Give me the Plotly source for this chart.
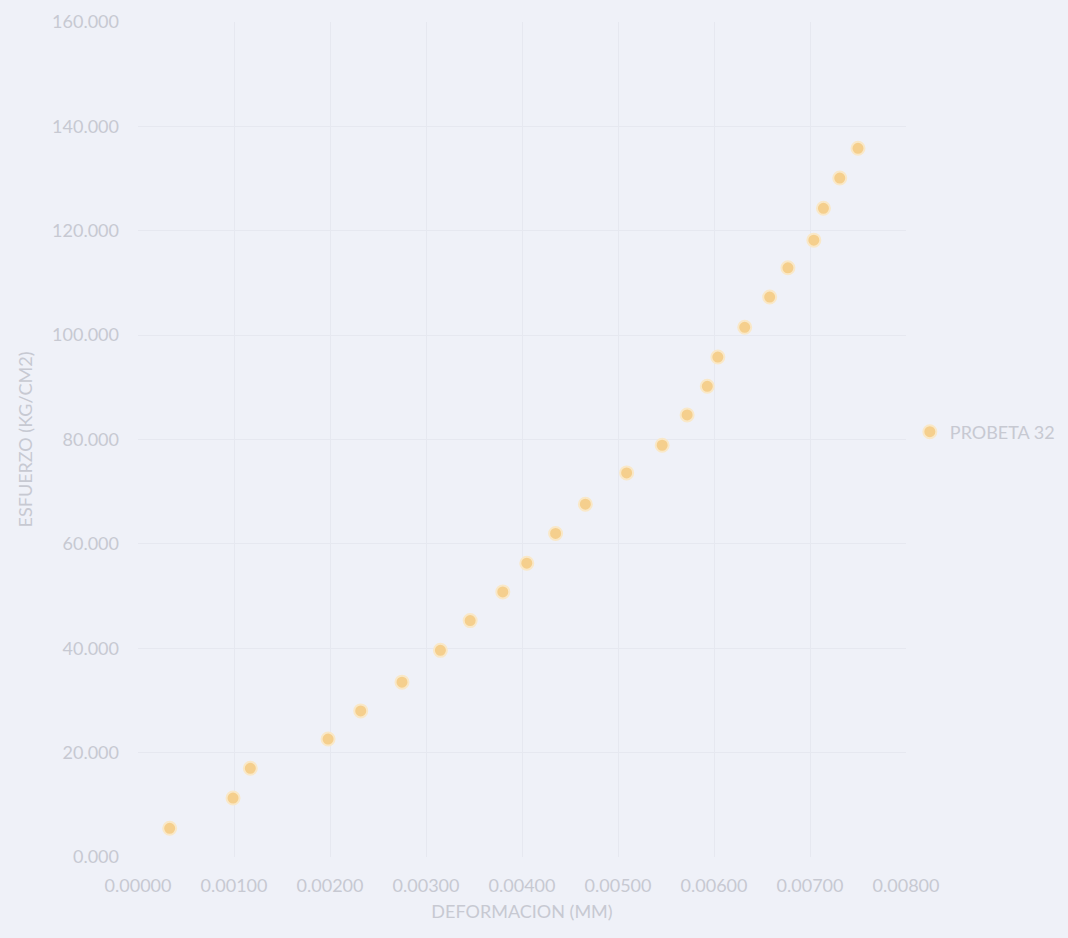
import plotly.graph_objects as go

# Ensayo de compresión: deformación (mm) vs esfuerzo (kg/cm2)
deformacion = [
    0.00033, 0.00099, 0.00117, 0.00198, 0.00232, 0.00275, 0.00315, 0.00346,
    0.00380, 0.00405, 0.00435, 0.00466, 0.00509, 0.00546, 0.00572, 0.00593,
    0.00604, 0.00632, 0.00658, 0.00677, 0.00704, 0.00714, 0.00731, 0.00750,
]
esfuerzo = [
    5.5, 11.3, 17.0, 22.6, 28.0, 33.5, 39.6, 45.3,
    50.8, 56.3, 62.0, 67.6, 73.6, 78.9, 84.7, 90.2,
    95.8, 101.5, 107.3, 112.9, 118.2, 124.3, 130.1, 135.8,
]
serie = "PROBETA 32"

x_ticks = [0.000, 0.001, 0.002, 0.003, 0.004, 0.005, 0.006, 0.007, 0.008]
y_ticks = [0, 20, 40, 60, 80, 100, 120, 140, 160]

fondo = "#eff1f8"
texto = "#c7c9d2"
rejilla = "#e6e8f0"

fig = go.Figure()
fig.add_trace(go.Scatter(
    x=deformacion,
    y=esfuerzo,
    mode="markers",
    name=serie,
    marker=dict(
        size=13,
        color="#f5cf8d",
        line=dict(color="#f9e8c8", width=2),
    ),
))

fig.update_layout(
    width=1068,
    height=938,
    paper_bgcolor=fondo,
    plot_bgcolor=fondo,
    margin=dict(l=138, r=162, t=22, b=81, autoexpand=False),
    font=dict(family="Lato, Open Sans, sans-serif", size=18, color=texto),
    showlegend=True,
    legend=dict(
        x=1.005,
        xanchor="left",
        y=0.509,
        yanchor="middle",
        bgcolor="rgba(0,0,0,0)",
        font=dict(size=18, color=texto),
        itemwidth=30,
    ),
    xaxis=dict(
        range=[0, 0.008],
        tickvals=x_ticks,
        tickformat=".5f",
        showgrid=True,
        gridcolor=rejilla,
        gridwidth=1,
        zeroline=False,
        showline=False,
        ticks="",
        automargin=False,
        ticklabelstandoff=16,
        title=dict(text="DEFORMACION (MM)", font=dict(size=18, color=texto), standoff=10),
    ),
    yaxis=dict(
        range=[0, 160],
        tickvals=y_ticks,
        tickformat=".3f",
        showgrid=True,
        gridcolor=rejilla,
        gridwidth=1,
        zeroline=False,
        showline=False,
        ticks="",
        automargin=False,
        ticklabelstandoff=18,
        title=dict(text="ESFUERZO (KG/CM2)", font=dict(size=18, color=texto), standoff=14),
    ),
)

fig.write_html("out.html")
